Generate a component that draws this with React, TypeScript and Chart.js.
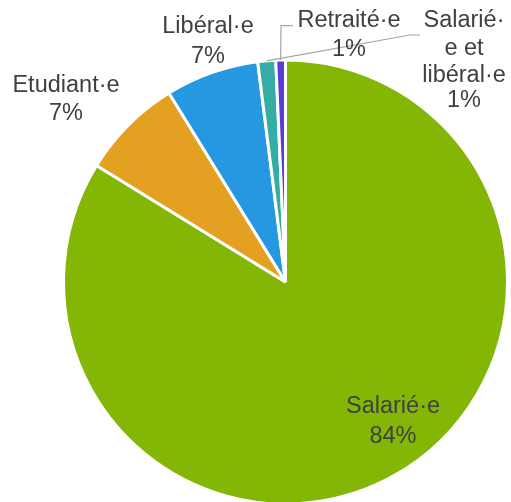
import React, { useEffect, useRef } from "react";
import { Chart, registerables } from "chart.js";

Chart.register(...registerables);

const categories = ["Salarié·e", "Etudiant·e", "Libéral·e", "Salarié·e et libéral·e", "Retraité·e"];
const values = [83.8, 7.4, 6.8, 1.3, 0.7];
const colors = ["#84B606", "#E3A021", "#2697E1", "#35ADA4", "#5A3ECF"];
const labelLines = [
  ["Salarié·e"],
  ["Etudiant·e"],
  ["Libéral·e"],
  ["Salarié·", "e et", "libéral·e"],
  ["Retraité·e"],
];

// label layout: center x, baselines of each line (text lines + percent line)
const labelLayout = [
  { x: 393, baselines: [412.7, 442.7] },
  { x: 66, baselines: [92.3, 120] },
  { x: 208, baselines: [33.3, 63.3] },
  { x: 464, baselines: [26.7, 55, 81.7, 106.7] },
  { x: 349, baselines: [26.7, 55.5] },
];

// leader lines: knee and end points for the small slices
const leaders: Record<number, { knee: [number, number]; end: [number, number] }> = {
  3: { knee: [410, 35], end: [420, 35] },
  4: { knee: [281, 25.7], end: [293, 25.7] },
};

const labelPlugin = {
  id: "pieLabels",
  afterDatasetsDraw(chart: any) {
    const ctx = chart.ctx;
    const meta = chart.getDatasetMeta(0);
    const total = values.reduce((a, b) => a + b, 0);
    ctx.save();
    ctx.strokeStyle = "#A6A6A6";
    ctx.lineWidth = 1.2;
    Object.keys(leaders).forEach((k) => {
      const i = Number(k);
      const arc = meta.data[i];
      const p = arc.getProps(["x", "y", "startAngle", "endAngle", "outerRadius"], true);
      const mid = (p.startAngle + p.endAngle) / 2;
      const r = p.outerRadius;
      const sx = p.x + Math.cos(mid) * r;
      const sy = p.y + Math.sin(mid) * r;
      const L = leaders[i];
      ctx.beginPath();
      ctx.moveTo(sx, sy);
      ctx.lineTo(L.knee[0], L.knee[1]);
      ctx.lineTo(L.end[0], L.end[1]);
      ctx.stroke();
    });
    ctx.fillStyle = "#404040";
    ctx.font = "23.5px 'Liberation Sans', Arial, sans-serif";
    ctx.textAlign = "center";
    ctx.textBaseline = "alphabetic";
    categories.forEach((_, i) => {
      const lines = [...labelLines[i], Math.round((values[i] / total) * 100) + "%"];
      const lay = labelLayout[i];
      lines.forEach((t, j) => {
        ctx.fillText(t, lay.x, lay.baselines[j]);
      });
    });
    ctx.restore();
  },
};

export default function App() {
  const ref = useRef<HTMLCanvasElement>(null);
  useEffect(() => {
    document.body.style.margin = "0";
    document.body.style.overflow = "hidden";
    document.documentElement.style.overflow = "hidden";
    const chart = new Chart(ref.current!, {
      type: "pie",
      data: {
        labels: categories,
        datasets: [
          {
            data: values,
            backgroundColor: colors,
            borderColor: "#FFFFFF",
            borderWidth: 3,
            radius: 222,
          } as any,
        ],
      },
      options: {
        animation: false,
        responsive: false,
        layout: { padding: { left: 62, right: 2, top: 55, bottom: 11 } },
        plugins: {
          legend: { display: false },
          tooltip: { enabled: false },
        },
      },
      plugins: [labelPlugin],
    });
    return () => chart.destroy();
  }, []);
  return (
    <div style={{ width: 511, height: 520, background: "#fff", overflow: "hidden" }}>
      <canvas ref={ref} width={511} height={520} style={{ display: "block" }} />
    </div>
  );
}
